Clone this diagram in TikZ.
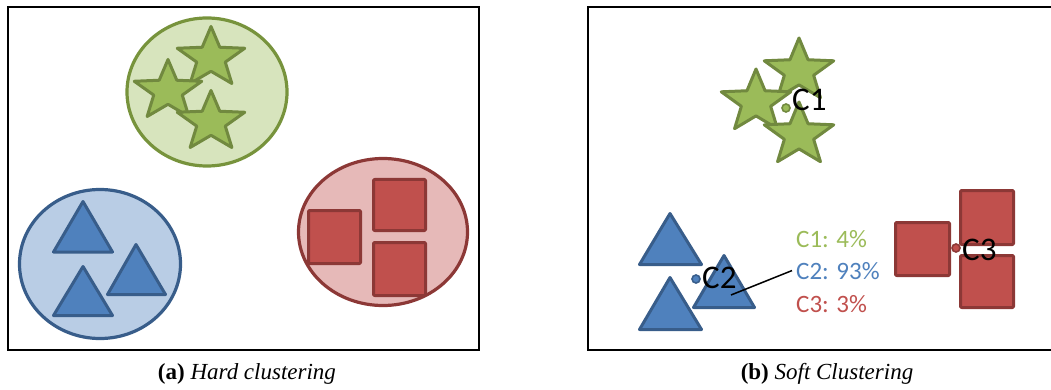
\documentclass[tikz,border=0pt]{standalone}
\usepackage{fontspec}
\setmainfont{Liberation Serif}
\newfontfamily\labelfont{Carlito}

\definecolor{grnfill}{HTML}{9BBB59}
\definecolor{grnline}{HTML}{71893F}
\definecolor{grnpale}{HTML}{D7E4BD}
\definecolor{grnring}{HTML}{77933C}
\definecolor{blufill}{HTML}{4F81BD}
\definecolor{bluline}{HTML}{385D8A}
\definecolor{blupale}{HTML}{B9CDE5}
\definecolor{redfill}{HTML}{C0504D}
\definecolor{redline}{HTML}{8C3836}
\definecolor{redpale}{HTML}{E6B9B8}

% five-pointed star: centre (#1,#2), outer radii #3/#4, inner radii #5/#6
\newcommand\starpath[6]{(#1,#2) +(270:#3 and #4) -- +(306:#5 and #6) -- +(342:#3 and #4) -- +(18:#5 and #6) -- +(54:#3 and #4) -- +(90:#5 and #6) -- +(126:#3 and #4) -- +(162:#5 and #6) -- +(198:#3 and #4) -- +(234:#5 and #6) -- cycle}

\begin{document}
\begin{tikzpicture}[x=1pt,y=-1pt,
  frame/.style={draw=black,line width=1.1pt},
  ring/.style={line width=3.2pt},
  shp/.style={line width=3pt,line join=round},
  starsty/.style={shp,fill=grnfill,draw=grnline},
  tristy/.style={shp,fill=blufill,draw=bluline},
  sqsty/.style={shp,fill=redfill,draw=redline,rounded corners=1pt},
  dot/.style={circle,inner sep=0pt,minimum size=8pt,line width=1.6pt},
  clab/.style={anchor=base west,inner sep=0pt,font=\labelfont\fontsize{33}{33}\selectfont,text=black},
  plab/.style={anchor=base west,inner sep=0pt,font=\labelfont\fontsize{25}{25}\selectfont},
  captext/.style={anchor=base,inner sep=0pt,font=\fontsize{23}{23}\selectfont}]
\useasboundingbox (0,0) rectangle (1051,390);

% ---------- panel (a): hard clustering ----------
\draw[frame] (8,7) rectangle (479,350);

\draw[ring,fill=grnpale,draw=grnring] (207,92) ellipse [x radius=80, y radius=74];
\draw[starsty] \starpath{211}{58}{35.5}{31.5}{15}{13.3};
\draw[starsty] \starpath{168}{91}{35.5}{31.5}{15}{13.3};
\draw[starsty] \starpath{211}{122}{35.5}{31.5}{15}{13.3};

\draw[ring,fill=blupale,draw=bluline] (100,264) ellipse [x radius=80.5, y radius=74.5];
\draw[tristy] (83,201.5) -- (112.5,252) -- (53.5,252) -- cycle;
\draw[tristy] (136,244.5) -- (165.5,294.5) -- (107.5,294.5) -- cycle;
\draw[tristy] (83,266.5) -- (112.5,315.5) -- (53.5,315.5) -- cycle;

\draw[ring,fill=redpale,draw=redline] (383,232) ellipse [x radius=84.5, y radius=73.5];
\draw[sqsty] (308.5,210.5) rectangle (360.5,263.5);
\draw[sqsty] (373.5,179.5) rectangle (425.5,230.5);
\draw[sqsty] (373.5,242.5) rectangle (425.5,295.5);

\node[captext] (capa) at (247,379) {\textbf{(a)} \textit{Hard clustering}};

% ---------- panel (b): soft clustering ----------
\draw[frame] (1060,7) -- (588,7) -- (588,350) -- (1060,350);

\draw[starsty] \starpath{799}{71}{36.5}{33}{15.4}{13.9};
\draw[starsty] \starpath{756}{102}{36.5}{33}{15.4}{13.9};
\draw[starsty] \starpath{799}{135}{36.5}{33}{15.4}{13.9};

\draw[tristy] (670,213.5) -- (701.5,264.5) -- (639.5,264.5) -- cycle;
\draw[tristy] (724,255.5) -- (754.5,307.5) -- (693.5,307.5) -- cycle;
\draw[tristy] (670,277.5) -- (701.5,329.5) -- (639.5,329.5) -- cycle;

\draw[sqsty] (895.5,222.5) rectangle (949.5,275.5);
\draw[sqsty] (960.5,190.5) rectangle (1013.5,244.5);
\draw[sqsty] (960.5,255.5) rectangle (1013.5,307.5);

\node[dot,fill=grnfill,draw=grnline] (m1) at (786,108) {};
\node[dot,fill=blufill,draw=bluline] (m2) at (696,279) {};
\node[dot,fill=redfill,draw=redline] (m3) at (956,248) {};

\node[clab] (l1) at (792,111) {C1};
\node[clab] (l2) at (702,288) {C2};
\node[clab] (l3) at (962,260) {C3};

\node[plab,text=grnfill] (p1) at (796,247) {C1: 4\%};
\node[plab,text=blufill] (p2) at (796,279) {C2: 93\%};
\node[plab,text=redfill] (p3) at (796,312) {C3: 3\%};

\coordinate (c2pt) at (731,295);
\draw[line width=1.5pt] (c2pt) -- ([xshift=-4pt]p2.west);

\node[captext] (capb) at (827,379) {\textbf{(b)} \textit{Soft Clustering}};
\end{tikzpicture}
\end{document}
